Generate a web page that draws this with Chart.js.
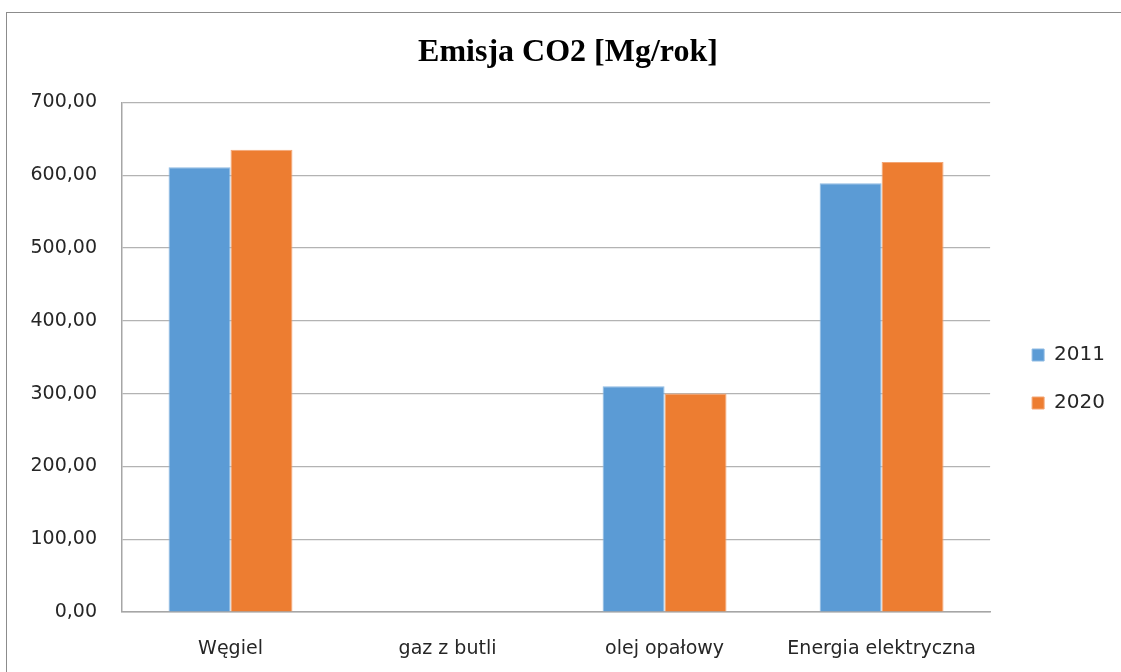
<!DOCTYPE html>
<html>
<head>
<meta charset="utf-8">
<script src="https://cdn.jsdelivr.net/npm/chart.js@4.4.1/dist/chart.umd.min.js"></script>
<style>
  body { margin: 0; background: #fff; overflow: hidden; }
  #frame { position: absolute; left: 6px; top: 12px; width: 1130px; height: 700px; border: 1px solid #8c8c8c; }
  #wrap { position: absolute; left: 0; top: 0; width: 1121px; height: 672px; }
</style>
</head>
<body>
<div id="frame"></div>
<div id="wrap"><canvas id="myChart" width="1121" height="672"></canvas></div>
<script>
// dane z wykresu
const kategorie = ["Węgiel", "gaz z butli", "olej opałowy", "Energia elektryczna"];
const emisja2011 = [611, 0, 310, 589];
const emisja2020 = [635, 0, 300, 618];
const lata = ["2011", "2020"];
const osY = { min: 0, max: 700, krok: 100 };

const ctx = document.getElementById("myChart").getContext("2d");
new Chart(ctx, {
  type: "bar",
  data: {
    labels: kategorie,
    datasets: [
      {
        label: lata[0],
        data: emisja2011,
        backgroundColor: "#5B9BD5",
        borderColor: "#8fbbe3",
        borderWidth: 1,
        categoryPercentage: 0.571,
        barPercentage: 1,
      },
      {
        label: lata[1],
        data: emisja2020,
        backgroundColor: "#ED7D31",
        borderColor: "#f3a675",
        borderWidth: 1,
        categoryPercentage: 0.571,
        barPercentage: 1,
      },
    ],
  },
  options: {
    responsive: false,
    animation: false,
    devicePixelRatio: 1,
    layout: { padding: { left: 21, right: 6, top: 0, bottom: 10 } },
    plugins: {
      title: {
        display: true,
        text: "Emisja CO2 [Mg/rok]",
        color: "#000",
        font: { family: "Liberation Serif", size: 32, weight: "bold" },
        padding: { top: 34, bottom: 30 },
      },
      legend: {
        position: "right",
        // pusty tytul legendy tylko po to, zeby zsunac pozycje w dol
        title: { display: true, text: " ", font: { size: 10 }, padding: { top: 42, bottom: 42 } },
        labels: {
          boxWidth: 12,
          boxHeight: 12,
          padding: 28,
          color: "#262626",
          font: { family: "DejaVu Sans", size: 20 },
        },
      },
      tooltip: { enabled: false },
    },
    scales: {
      x: {
        grid: { display: false, drawTicks: false },
        border: { display: true, color: "#a6a6a6", width: 1.5 },
        ticks: {
          padding: 26,
          maxRotation: 0,
          color: "#262626",
          font: { family: "DejaVu Sans", size: 19 },
        },
        afterFit: (s) => { s.height = 50; },
      },
      y: {
        min: osY.min,
        max: osY.max,
        grid: { color: "#b3b3b3", lineWidth: 1.2, drawTicks: false },
        border: { display: true, color: "#a6a6a6", width: 1.5 },
        ticks: {
          stepSize: osY.krok,
          padding: 25,
          color: "#262626",
          font: { family: "DejaVu Sans", size: 19 },
          callback: (v) => v.toFixed(2).replace(".", ","),
        },
        afterFit: (s) => { s.width = 101; },
      },
      pusta: {
        type: "linear",
        position: "right",
        display: true,
        grid: { display: false },
        border: { display: false },
        ticks: { display: false },
        afterFit: (s) => { s.width = 14; },
      },
    },
  },
});
</script>
</body>
</html>
